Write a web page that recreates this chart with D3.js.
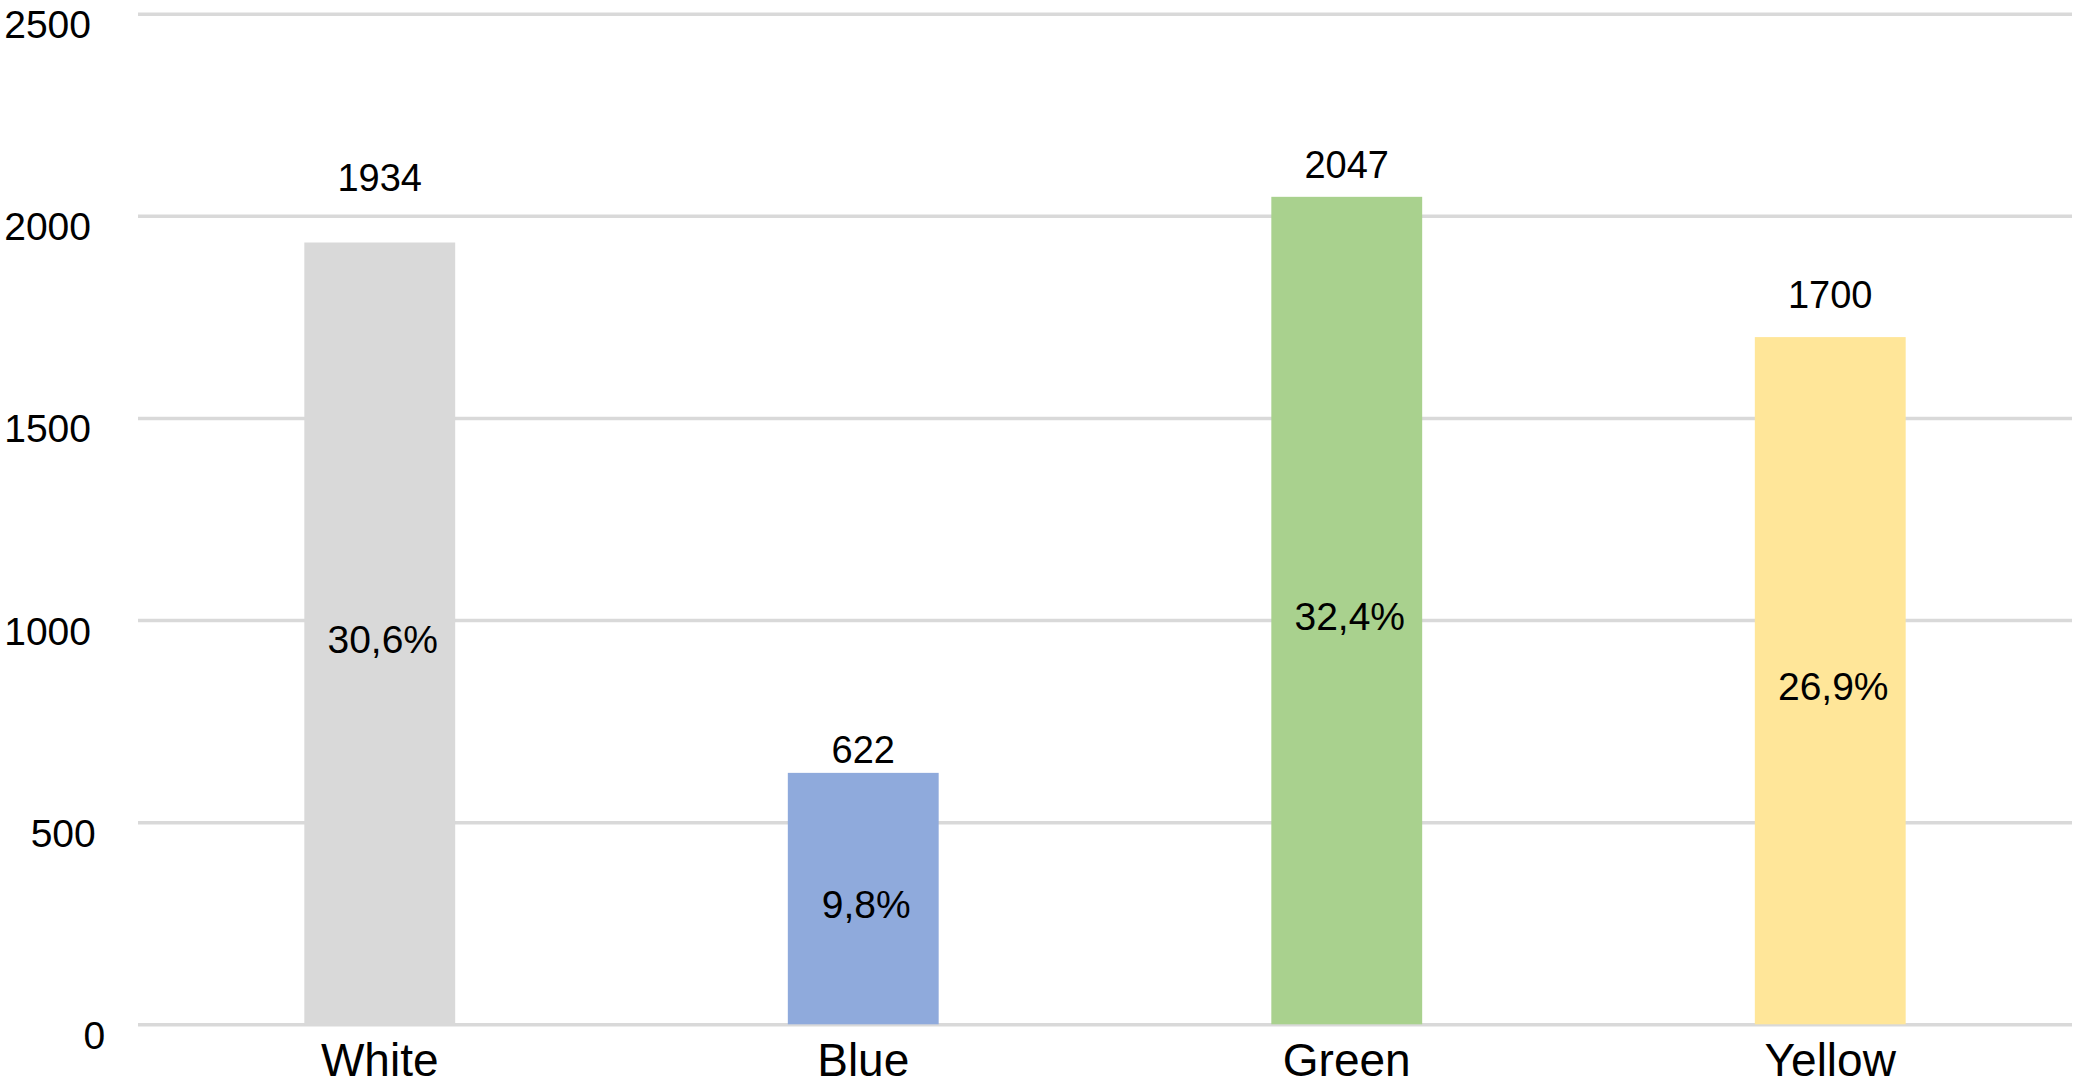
<!DOCTYPE html>
<html>
<head>
<meta charset="utf-8">
<script src="https://cdn.jsdelivr.net/npm/d3@7"></script>
<style>
  html, body { margin: 0; padding: 0; background: #ffffff; }
  svg { display: block; font-family: "Liberation Sans", Arial, Helvetica, sans-serif; }
</style>
</head>
<body>
<svg id="chart" width="2083" height="1089"></svg>
<script>
// ---- data ----
const categories = ["White", "Blue", "Green", "Yellow"];
const counts = [1934, 622, 2047, 1700];
const shares = ["30,6%", "9,8%", "32,4%", "26,9%"];
const yTicks = [0, 500, 1000, 1500, 2000, 2500];
const barColors = ["#d9d9d9", "#8faadc", "#a9d18e", "#ffe699"];

// ---- layout (not data) ----
const W = 2083, H = 1089;
const plotLeft = 138, plotRight = 2072, plotTop = 13.7, plotBottom = 1024.3;
const valueLabelLift = [51, 10, 19, 29]; // gap between bar top and count label baseline

const svg = d3.select("#chart");

const x = d3.scaleBand()
  .domain(categories)
  .range([plotLeft, plotRight])
  .paddingInner(0.688)
  .paddingOuter(0.344);

const y = d3.scaleLinear()
  .domain([0, 2500])
  .range([plotBottom, plotTop]);

// gridlines + y tick labels
const yAxis = d3.axisLeft(y)
  .tickValues(yTicks)
  .tickFormat(d3.format("d"))
  .tickSize(-(plotRight - plotLeft))
  .tickPadding(47);

const gy = svg.append("g")
  .attr("transform", `translate(${plotLeft},0)`)
  .call(yAxis);
gy.select(".domain").remove();
gy.selectAll(".tick line")
  .attr("stroke", "#d9d9d9")
  .attr("stroke-width", 3.5);
gy.selectAll(".tick text")
  .attr("fill", "#000")
  .attr("font-size", 39)
  .attr("dy", 24)
  .attr("dx", function(d) { return (4 - String(d).length) * 4.7; })
  .style("font-family", "'Liberation Sans', Arial, Helvetica, sans-serif");

// bars
const data = categories.map((c, i) => ({ c, v: counts[i], s: shares[i], col: barColors[i], lift: valueLabelLift[i] }));

svg.append("g").selectAll("rect")
  .data(data)
  .join("rect")
  .attr("x", d => x(d.c))
  .attr("width", x.bandwidth())
  .attr("y", d => y(d.v))
  .attr("height", d => y(0) - y(d.v))
  .attr("fill", d => d.col);

// count labels above bars
svg.append("g").selectAll("text")
  .data(data)
  .join("text")
  .attr("x", d => x(d.c) + x.bandwidth() / 2)
  .attr("y", d => y(d.v) - d.lift)
  .attr("text-anchor", "middle")
  .attr("font-size", 38)
  .attr("fill", "#000")
  .text(d => d.v);

// percentage labels inside bars
svg.append("g").selectAll("text")
  .data(data)
  .join("text")
  .attr("x", d => x(d.c) + x.bandwidth() / 2 + 3)
  .attr("y", d => (y(d.v) + y(0)) / 2 + 6)
  .attr("dy", "0.35em")
  .attr("text-anchor", "middle")
  .attr("font-size", 39)
  .attr("fill", "#000")
  .text(d => d.s);

// category axis
const xAxis = d3.axisBottom(x).tickSize(0).tickPadding(0);
const gx = svg.append("g")
  .attr("transform", `translate(0,${plotBottom})`)
  .call(xAxis);
gx.select(".domain").remove();
gx.selectAll(".tick text")
  .attr("y", 52)
  .attr("dy", 0)
  .attr("font-size", 46)
  .attr("fill", "#000")
  .style("font-family", "'Liberation Sans', Arial, Helvetica, sans-serif");
</script>
</body>
</html>
